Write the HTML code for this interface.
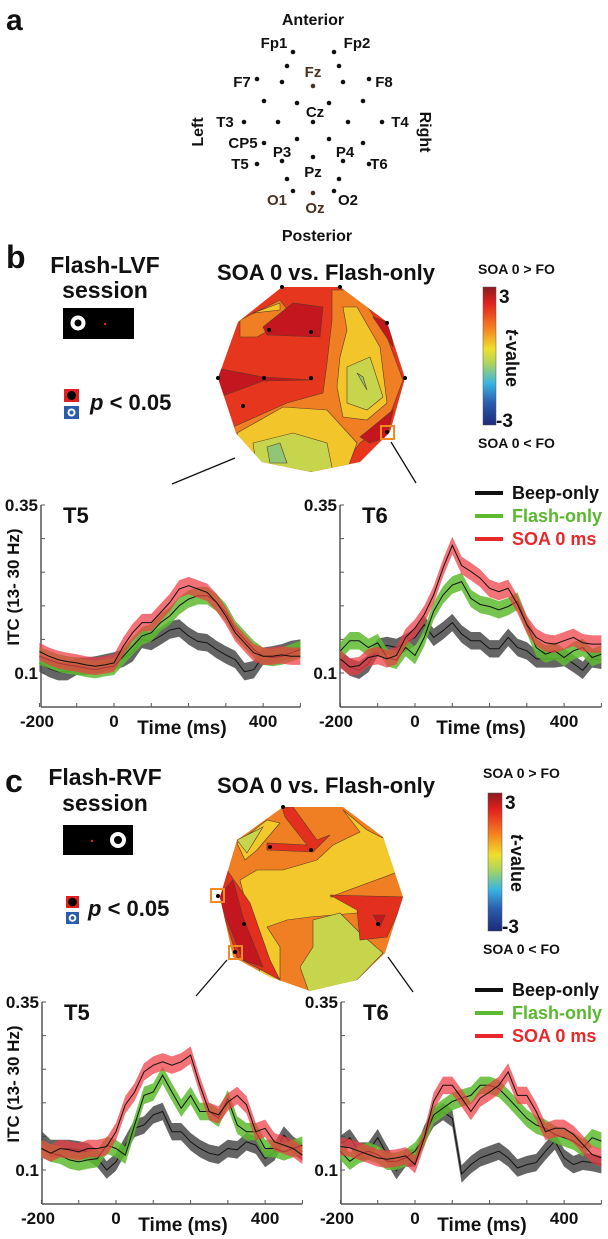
<!DOCTYPE html>
<html><head><meta charset="utf-8">
<style>
html,body{margin:0;padding:0;background:#fff;}
svg{display:block;font-family:"Liberation Sans",Arial,sans-serif;font-weight:bold;}
</style></head>
<body>
<svg id="fig" width="608" height="1239" viewBox="0 0 608 1239" xmlns="http://www.w3.org/2000/svg">
<defs>
<linearGradient id="jet" x1="0" y1="0" x2="0" y2="1">
<stop offset="0" stop-color="#8b1a1f"/><stop offset="0.12" stop-color="#e3201e"/><stop offset="0.3" stop-color="#f58220"/><stop offset="0.45" stop-color="#efe02c"/><stop offset="0.56" stop-color="#a8d460"/><stop offset="0.7" stop-color="#38b4e2"/><stop offset="0.84" stop-color="#2a5cae"/><stop offset="1" stop-color="#1c2a78"/>
</linearGradient>
<clipPath id="clipB"><polygon points="282,287 340,287 387,322 405,378 390,432 360,462 311,472 262,462 236,433 218,378 238,322"/></clipPath>
<clipPath id="clipC"><polygon points="283,807 343,807 383,837 403,897 385,953 357,980 310,991 270,977 233,957 220,897 237,840"/></clipPath>
</defs>

<!-- Panel a -->
<g font-size="15" fill="#111">
<text x="6" y="30" font-size="30">a</text>
<text x="313" y="25" font-size="16" text-anchor="middle">Anterior</text>
<text x="317" y="241" font-size="16" text-anchor="middle">Posterior</text>
<text transform="translate(203,132) rotate(-90)" font-size="16" text-anchor="middle">Left</text>
<text transform="translate(420,132) rotate(90)" font-size="16" text-anchor="middle">Right</text>
<g fill="#111">
<circle cx="293" cy="52" r="2.3"/><circle cx="334" cy="52" r="2.3"/><circle cx="287" cy="66" r="2.3"/><circle cx="339" cy="66" r="2.3"/>
<circle cx="257" cy="79" r="2.3"/><circle cx="282" cy="82" r="2.3"/><circle cx="313" cy="86" r="2.3" fill="#4a3020"/><circle cx="343" cy="82" r="2.3"/><circle cx="369" cy="79" r="2.3"/>
<circle cx="264" cy="101" r="2.3"/><circle cx="297" cy="103" r="2.3"/><circle cx="329" cy="103" r="2.3"/><circle cx="363" cy="101" r="2.3"/>
<circle cx="244" cy="122" r="2.3"/><circle cx="278" cy="122" r="2.3"/><circle cx="313" cy="122" r="2.3"/><circle cx="348" cy="122" r="2.3"/><circle cx="382" cy="122" r="2.3"/>
<circle cx="264" cy="143" r="2.3"/><circle cx="297" cy="139" r="2.3"/><circle cx="329" cy="139" r="2.3"/><circle cx="363" cy="143" r="2.3"/>
<circle cx="257" cy="164" r="2.3"/><circle cx="282" cy="161" r="2.3"/><circle cx="313" cy="157" r="2.3"/><circle cx="343" cy="161" r="2.3"/><circle cx="369" cy="164" r="2.3"/>
<circle cx="287" cy="179" r="2.3"/><circle cx="339" cy="179" r="2.3"/><circle cx="293" cy="191" r="2.3"/><circle cx="313" cy="193" r="2.3" fill="#4a3020"/><circle cx="334" cy="191" r="2.3"/>
</g>
<g text-anchor="middle">
<text x="274" y="48">Fp1</text><text x="357" y="48">Fp2</text><text x="313" y="77" fill="#4a3020">Fz</text>
<text x="242" y="87">F7</text><text x="384" y="87">F8</text><text x="315" y="117">Cz</text>
<text x="225" y="127">T3</text><text x="400" y="127">T4</text><text x="243" y="148">CP5</text>
<text x="282" y="157">P3</text><text x="345" y="157">P4</text><text x="240" y="169">T5</text><text x="379" y="169">T6</text>
<text x="313" y="177">Pz</text><text x="277" y="205" fill="#4a3020">O1</text><text x="315" y="213" fill="#4a3020">Oz</text><text x="348" y="205">O2</text>
</g>
</g>

<!-- Panel b header -->
<g fill="#111">
<text x="6" y="268" font-size="32">b</text>
<text x="105" y="273" font-size="23" text-anchor="middle">Flash-LVF</text>
<text x="105" y="298" font-size="23" text-anchor="middle">session</text>
<g>
<rect x="63" y="308" width="71" height="31" fill="#000"/>
<circle cx="78" cy="323" r="7.5" fill="#fff"/><circle cx="78" cy="323" r="3.5" fill="#000"/>
<circle cx="105" cy="324" r="1.2" fill="#e02020"/>
</g>
<g>
<rect x="64" y="389" width="15" height="13" fill="#e02020"/><circle cx="71.5" cy="395.5" r="4.5" fill="#000"/>
<rect x="64" y="406" width="15" height="13" fill="#2a5cae"/><circle cx="71.5" cy="412.5" r="4" fill="#fff"/><circle cx="71.5" cy="412.5" r="2" fill="#2a5cae"/>
<text x="90" y="410" font-size="22"><tspan font-style="italic">p</tspan> &lt; 0.05</text>
</g>
<text x="326" y="280" font-size="22" text-anchor="middle">SOA 0 vs. Flash-only</text>
<g font-size="14">
<text x="478" y="274">SOA 0 &gt; FO</text>
<rect x="483" y="287" width="13" height="138" fill="url(#jet)" stroke="#555" stroke-width="0.5"/>
<text x="499" y="303" font-size="19">3</text>
<text x="496" y="427" font-size="19">-3</text>
<text transform="translate(506,358) rotate(90)" font-size="18" text-anchor="middle"><tspan font-style="italic">t</tspan>-value</text>
<text x="478" y="448">SOA 0 &lt; FO</text>
</g>
</g>

<!-- Topomap b -->
<g clip-path="url(#clipB)" stroke="#5a3a2a" stroke-width="0.6">
<rect x="210" y="280" width="200" height="200" fill="#e6361e" stroke="none"/>
<polygon fill="#f07e22" points="332,290 357,290 387,337 403,380 387,423 360,443 340,470 233,470 233,427 287,403 323,393 327,363 332,320"/>
<polygon fill="#f07e22" points="240,320 280,300 293,317 257,337 240,337"/>
<polygon fill="#f2c52a" points="253,313 280,303 280,310"/>
<polygon fill="#f2c52a" points="343,307 357,307 380,347 387,403 367,420 343,417 337,387 340,357 347,330"/>
<polygon fill="#f2c52a" points="237,433 283,407 327,410 357,443 347,470 247,470"/>
<polygon fill="#c6d54c" points="347,367 370,357 383,397 367,410 347,403"/>
<polygon fill="#8fc777" points="357,373 363,377 367,390"/>
<polygon fill="#c6d54c" points="253,443 293,433 327,443 333,472 257,472"/>
<polygon fill="#8fc777" points="267,447 280,443 287,463 270,463"/>
<polygon fill="#c3161e" points="263,327 293,303 323,307 320,337 267,335"/>
<polygon fill="#c3161e" points="216,368 263,377 313,380 263,381 220,397"/>
<polygon fill="#c3161e" points="360,437 393,410 387,437 370,443"/>
<polygon fill="#c3161e" points="373,317 390,323 393,347"/>
</g>
<g fill="#000">
<circle cx="282" cy="287" r="2"/><circle cx="340" cy="287" r="2"/><circle cx="387" cy="323" r="2"/><circle cx="405" cy="378" r="2"/><circle cx="218" cy="378" r="2"/><circle cx="243" cy="406" r="2"/><circle cx="269" cy="330" r="2"/><circle cx="311" cy="332" r="2"/><circle cx="264" cy="378" r="2"/><circle cx="311" cy="378" r="2"/><circle cx="387" cy="432" r="2"/>
<rect x="381" y="426" width="13" height="13" fill="none" stroke="#f08a22" stroke-width="2"/>
</g>
<line x1="235" y1="458" x2="172" y2="484" stroke="#111" stroke-width="1.3"/>
<line x1="391" y1="442" x2="416" y2="483" stroke="#111" stroke-width="1.3"/>

<!-- Panel c header -->
<g fill="#111">
<text x="5" y="792" font-size="32">c</text>
<text x="105" y="785" font-size="23" text-anchor="middle">Flash-RVF</text>
<text x="105" y="811" font-size="23" text-anchor="middle">session</text>
<g>
<rect x="63" y="825" width="70" height="30" fill="#000"/>
<circle cx="92" cy="841" r="1.2" fill="#e02020"/>
<circle cx="118" cy="840" r="8" fill="#fff"/><circle cx="118" cy="840" r="4" fill="#000"/>
</g>
<g>
<rect x="66" y="896" width="13" height="12" fill="#e02020"/><circle cx="72.5" cy="902" r="4.3" fill="#000"/>
<rect x="66" y="912" width="13" height="12" fill="#2a5cae"/><circle cx="72.5" cy="918" r="3.8" fill="#fff"/><circle cx="72.5" cy="918" r="1.9" fill="#2a5cae"/>
<text x="88" y="916" font-size="22"><tspan font-style="italic">p</tspan> &lt; 0.05</text>
</g>
<text x="326" y="793" font-size="22" text-anchor="middle">SOA 0 vs. Flash-only</text>
<g font-size="14">
<text x="483" y="778">SOA 0 &gt; FO</text>
<rect x="488" y="793" width="14" height="138" fill="url(#jet)" stroke="#555" stroke-width="0.5"/>
<text x="505" y="809" font-size="19">3</text>
<text x="502" y="933" font-size="19">-3</text>
<text transform="translate(511,863) rotate(90)" font-size="18" text-anchor="middle"><tspan font-style="italic">t</tspan>-value</text>
<text x="483" y="954">SOA 0 &lt; FO</text>
</g>
</g>

<!-- Topomap c -->
<g clip-path="url(#clipC)" stroke="#5a3a2a" stroke-width="0.6">
<rect x="210" y="800" width="200" height="200" fill="#ef7f22" stroke="none"/>
<polygon fill="#f2c82a" points="343,810 367,830 387,840 403,870 330,897 360,897 357,913 310,917 287,920 267,927 280,947 280,995 260,973 250,920 240,880 257,870 283,870 317,860 333,845 360,832"/>
<polygon fill="#f2c82a" points="237,843 267,820 280,823 257,850 245,860"/>
<polygon fill="#c6d54c" points="237,840 263,827 247,853"/>
<polygon fill="#c6d54c" points="313,920 340,913 360,933 383,953 357,980 310,995 300,967 313,947"/>
<polygon fill="#e3301e" points="282,807 293,807 317,840 330,835 313,852 267,850 267,843 307,845 285,817"/>
<polygon fill="#e3301e" points="330,895 405,897 387,937 360,940 357,910"/>
<polygon fill="#c3161e" points="373,915 385,915 380,927"/>
<polygon fill="#e3301e" points="218,897 227,870 250,903 270,960 280,980 237,957"/>
<polygon fill="#c3161e" points="218,897 233,880 243,917 263,967 243,960 227,920"/>
</g>
<g fill="#000">
<circle cx="283" cy="807" r="2"/><circle cx="270" cy="847" r="2"/><circle cx="311" cy="850" r="2"/><circle cx="244" cy="924" r="2"/><circle cx="218" cy="896" r="2"/><circle cx="235" cy="952" r="2"/><circle cx="378" cy="924" r="2"/>
<rect x="211" y="889" width="13" height="13" fill="none" stroke="#f08a22" stroke-width="2"/>
<rect x="229" y="946" width="13" height="13" fill="none" stroke="#f08a22" stroke-width="2"/>
</g>
<line x1="227" y1="960" x2="196" y2="996" stroke="#111" stroke-width="1.3"/>
<line x1="388" y1="957" x2="413" y2="992" stroke="#111" stroke-width="1.3"/>

<g id="charts"></g>
</svg>

<script>
// Shared time axis (ms) and tick data
const times = [-200,-175,-150,-125,-100,-75,-50,-25,0,25,50,75,100,125,150,175,200,225,250,275,300,325,350,375,400,425,450,475,500];
const xTickValues = [-200,-100,0,100,200,300,400,500];
const xTickLabels = [-200,0,400];
const yTickValues = [0.1,0.15,0.2,0.25,0.3,0.35];
const yTickLabels = [0.1,0.35];
const bandHalfWidth = 0.013;
const seriesNames = ["Beep-only","Flash-only","SOA 0 ms"];

// Panel b, electrode T5
const bT5Beep  = [0.115,0.107,0.102,0.102,0.110,0.110,0.112,0.115,0.118,0.122,0.130,0.150,0.147,0.155,0.164,0.167,0.155,0.147,0.145,0.135,0.127,0.120,0.102,0.105,0.125,0.127,0.130,0.135,0.137];
const bT5Flash = [0.125,0.120,0.115,0.112,0.110,0.107,0.105,0.108,0.110,0.125,0.140,0.155,0.160,0.175,0.185,0.200,0.210,0.215,0.215,0.205,0.190,0.165,0.150,0.135,0.125,0.123,0.125,0.130,0.135];
const bT5Soa   = [0.132,0.125,0.120,0.117,0.115,0.112,0.110,0.112,0.115,0.140,0.160,0.175,0.175,0.190,0.205,0.225,0.230,0.225,0.220,0.205,0.185,0.160,0.145,0.130,0.125,0.125,0.127,0.125,0.125];
// Panel b, electrode T6
const bT6Beep  = [0.121,0.109,0.104,0.114,0.138,0.141,0.138,0.145,0.153,0.172,0.153,0.163,0.175,0.158,0.148,0.148,0.136,0.136,0.153,0.138,0.133,0.121,0.121,0.121,0.123,0.114,0.104,0.121,0.119];
const bT6Flash = [0.133,0.148,0.148,0.138,0.145,0.123,0.119,0.138,0.126,0.153,0.192,0.216,0.231,0.236,0.211,0.202,0.199,0.194,0.199,0.207,0.172,0.138,0.128,0.133,0.123,0.133,0.138,0.123,0.128];
const bT6Soa   = [0.121,0.109,0.111,0.123,0.126,0.121,0.126,0.153,0.167,0.187,0.216,0.256,0.290,0.260,0.251,0.241,0.226,0.221,0.226,0.202,0.172,0.153,0.145,0.143,0.148,0.153,0.145,0.143,0.143];
// Panel c, electrode T5
const cT5Beep  = [0.145,0.132,0.132,0.132,0.130,0.127,0.117,0.100,0.112,0.137,0.162,0.167,0.182,0.187,0.157,0.157,0.142,0.132,0.125,0.122,0.132,0.130,0.142,0.137,0.117,0.127,0.152,0.137,0.127];
const cT5Flash = [0.132,0.125,0.122,0.115,0.112,0.115,0.117,0.137,0.132,0.122,0.167,0.211,0.216,0.241,0.216,0.192,0.211,0.187,0.187,0.177,0.206,0.167,0.157,0.157,0.132,0.132,0.127,0.132,0.137];
const cT5Soa   = [0.132,0.125,0.132,0.130,0.127,0.132,0.132,0.135,0.157,0.197,0.216,0.246,0.256,0.261,0.256,0.261,0.271,0.226,0.187,0.182,0.201,0.211,0.197,0.157,0.162,0.142,0.137,0.132,0.122];
// Panel c, electrode T6
const cT6Beep  = [0.138,0.148,0.128,0.128,0.148,0.123,0.099,0.118,0.118,0.153,0.177,0.187,0.177,0.094,0.108,0.118,0.123,0.128,0.118,0.103,0.108,0.111,0.128,0.143,0.118,0.108,0.113,0.111,0.108];
const cT6Flash = [0.128,0.113,0.123,0.128,0.123,0.113,0.113,0.118,0.128,0.148,0.182,0.192,0.202,0.207,0.211,0.226,0.226,0.221,0.207,0.192,0.177,0.167,0.162,0.153,0.148,0.143,0.133,0.148,0.143];
const cT6Soa   = [0.135,0.133,0.128,0.123,0.118,0.116,0.118,0.121,0.108,0.148,0.202,0.226,0.226,0.207,0.187,0.207,0.216,0.226,0.246,0.211,0.211,0.187,0.157,0.162,0.162,0.153,0.138,0.123,0.118];

const NS = "http://www.w3.org/2000/svg";
const root = document.getElementById("charts");
function mk(tag, attrs, parent){
  const e = document.createElementNS(NS, tag);
  for (const k in attrs) e.setAttribute(k, attrs[k]);
  (parent || root).appendChild(e);
  return e;
}

const panels = [
  {id:"b-t5", label:"T5", zero:114, ax:41, y01:673, bottom:707, beep:bT5Beep, flash:bT5Flash, soa:bT5Soa, yTitle:true, legend:false},
  {id:"b-t6", label:"T6", zero:415, ax:340, y01:673, bottom:707, beep:bT6Beep, flash:bT6Flash, soa:bT6Soa, yTitle:false, legend:true},
  {id:"c-t5", label:"T5", zero:116, ax:42, y01:1170, bottom:1204, beep:cT5Beep, flash:cT5Flash, soa:cT5Soa, yTitle:true, legend:false},
  {id:"c-t6", label:"T6", zero:415, ax:341, y01:1170, bottom:1204, beep:cT6Beep, flash:cT6Flash, soa:cT6Soa, yTitle:false, legend:true}
];
const colors = {beep:"#4a4a4a", flash:"#5dbb2f", soa:"#ee3b44"};
const legendColors = ["#111","#5dbb2f","#e8282a"];
const legendTextColors = ["#111","#5ab82e","#e8282a"];

panels.forEach(function(p){
  const xs = function(t){ return p.zero + 0.3728*t; };
  const ys = function(v){ return p.y01 - (v-0.1)*672; };
  const g = mk("g", {});
  
  
  const xEnd = xs(500);
  const yAxis = mk("line", {x1:p.ax, y1:ys(0.35), x2:p.ax, y2:p.bottom, stroke:"#555", "stroke-width":1.5}, g);
  
  
  const xAxis = mk("line", {x1:p.ax, y1:p.bottom, x2:xEnd, y2:p.bottom, stroke:"#555", "stroke-width":1.5}, g);
  
  
  yTickValues.forEach(function(v){
    const tk = mk("line", {x1:p.ax, y1:ys(v), x2:p.ax+4, y2:ys(v), stroke:"#555", "stroke-width":1}, g);
    
    
  });
  yTickLabels.forEach(function(v){
    const t = mk("text", {x:p.ax-3, y:ys(v)+6, "text-anchor":"end", "font-size":17, fill:"#111"}, g);
    t.textContent = String(v);
    
    
  });
  xTickValues.forEach(function(t){
    const tk = mk("line", {x1:xs(t), y1:p.bottom, x2:xs(t), y2:p.bottom-4, stroke:"#555", "stroke-width":1}, g);
    
    
  });
  xTickLabels.forEach(function(t){
    const xx = t === -200 ? p.ax - 4 : xs(t);
    const tl = mk("text", {x:xx, y:p.bottom+20, "text-anchor":"middle", "font-size":17, fill:"#111"}, g);
    tl.textContent = String(t);
    
    
  });
  const xt = mk("text", {x:p.ax+141, y:p.bottom+27, "text-anchor":"middle", "font-size":19, fill:"#111"}, g);
  xt.textContent = "Time (ms)";
  
  
  if (p.yTitle){
    const yt = mk("text", {transform:"translate(19,"+(p.y01-86)+") rotate(-90)", "text-anchor":"middle", "font-size":17, fill:"#111"}, g);
    yt.textContent = "ITC (13- 30 Hz)";
    
    
  }
  const lab = mk("text", {x:p.ax+22, y:ys(0.35)+18, "font-size":22, fill:"#111"}, g);
  lab.textContent = p.label;
  
  

  [["beep",0.85],["flash",0.85],["soa",0.72]].forEach(function(s){
    const vals = p[s[0]];
    let up = [], lo = [], mean = [];
    for (let i=0;i<times.length;i++){
      const x = xs(times[i]);
      up.push(x.toFixed(1)+","+ys(vals[i]+bandHalfWidth).toFixed(1));
      lo.unshift(x.toFixed(1)+","+ys(vals[i]-bandHalfWidth).toFixed(1));
      mean.push(x.toFixed(1)+","+ys(vals[i]).toFixed(1));
    }
    const band = mk("polygon", {points:up.concat(lo).join(" "), fill:colors[s[0]], "fill-opacity":s[1]}, g);
    
    
    const ln = mk("polyline", {points:mean.join(" "), fill:"none", stroke:"#111", "stroke-width":1}, g);
    
    
  });

  if (p.legend){
    const lg = mk("g", {}, g);
    
    
    for (let i=0;i<3;i++){
      const yy = p.y01 - 180 + i*23;
      const ll = mk("line", {x1:475, y1:yy, x2:503, y2:yy, stroke:legendColors[i], "stroke-width":4}, lg);
      
      
      const lt = mk("text", {x:512, y:yy+6, "font-size":18, fill:legendTextColors[i]}, lg);
      lt.textContent = seriesNames[i];
      
      
    }
  }
});
</script>
</body></html>
